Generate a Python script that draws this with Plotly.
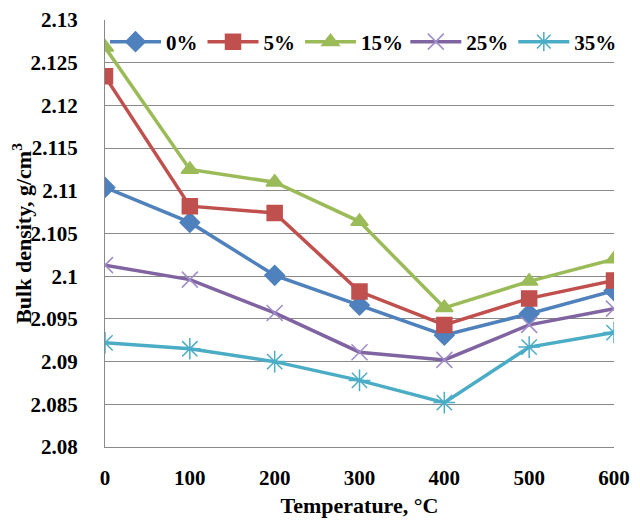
import plotly.graph_objects as go

temperature = [0, 100, 200, 300, 400, 500, 600]
series_names = ["0%", "5%", "15%", "25%", "35%"]
d0 = [2.1104, 2.1063, 2.1001, 2.0966, 2.0931, 2.0956, 2.0983]
d5 = [2.1234, 2.1082, 2.1074, 2.0982, 2.0943, 2.0974, 2.0995]
d15 = [2.1268, 2.1125, 2.1110, 2.1064, 2.0963, 2.0994, 2.1020]
d25 = [2.1013, 2.0996, 2.0957, 2.0911, 2.0902, 2.0943, 2.0962]
d35 = [2.0922, 2.0915, 2.0900, 2.0878, 2.0852, 2.0917, 2.0934]
values = [d0, d5, d15, d25, d35]
y_ticks = [2.08, 2.085, 2.09, 2.095, 2.1, 2.105, 2.11, 2.115, 2.12, 2.125, 2.13]
y_tick_labels = ["2.08", "2.085", "2.09", "2.095", "2.1", "2.105", "2.11", "2.115", "2.12", "2.125", "2.13"]

colors = ["#4F81BD", "#C0504D", "#9BBB59", "#8064A2", "#4BACC6"]
marker_colors = ["#4F81BD", "#C0504D", "#9BBB59", "#A08CC8", "#4BACC6"]
symbols = ["diamond", "square", "triangle-up", "x-thin-open", "asterisk-open"]
sizes = [15, 15, 15, 16, 18]
legend_ids = ["legend", "legend", "legend", "legend2", "legend2"]

font_family = "Liberation Serif"
tick_font = dict(family=font_family, size=21, color="black", weight="bold")
title_font = dict(family=font_family, size=22, color="black", weight="bold")
legend_font = dict(family=font_family, size=21, color="black", weight="bold")

fig = go.Figure()
for name, vals, c, mc, s, sz, lg in zip(series_names, values, colors, marker_colors, symbols, sizes, legend_ids):
    fig.add_trace(go.Scatter(
        x=temperature, y=vals, name=name, mode="lines+markers", legend=lg,
        line=dict(color=c, width=3.5),
        marker=dict(symbol=s, size=sz, color=mc, line=dict(color=mc, width=1.5)),
    ))

fig.update_layout(
    width=632, height=514,
    margin=dict(l=97, r=26, t=12, b=75, autoexpand=False),
    paper_bgcolor="white", plot_bgcolor="white",
    font=dict(family=font_family, size=21, color="black"),
    showlegend=True,
    legend=dict(
        orientation="h", x=0.0, y=0.9485, xanchor="left", yanchor="middle",
        bgcolor="rgba(0,0,0,0)", font=legend_font,
        itemwidth=51, tracegroupgap=0,
    ),
    legend2=dict(
        orientation="h", x=0.59, y=0.9485, xanchor="left", yanchor="middle",
        bgcolor="rgba(0,0,0,0)", font=legend_font,
        itemwidth=51, tracegroupgap=0,
    ),
    xaxis=dict(
        range=[0, 600], tickmode="array", tickvals=temperature,
        ticktext=[str(t) for t in temperature],
        showgrid=False, zeroline=False, showline=True, linecolor="#898989", linewidth=1,
        ticks="", ticklabelstandoff=12,
        tickfont=tick_font,
        title=dict(text="Temperature, °C", standoff=8, font=title_font),
    ),
    yaxis=dict(
        range=[2.08, 2.13], tickmode="array",
        tickvals=y_ticks, ticktext=y_tick_labels,
        showgrid=True, gridcolor="#898989", gridwidth=1, zeroline=False,
        showline=True, linecolor="#898989", linewidth=1,
        ticks="", ticklabelstandoff=22,
        tickfont=tick_font,
        title=dict(text="Bulk density, g/cm<sup>3</sup>", standoff=9, font=title_font),
    ),
)

fig.write_html("out.html")
